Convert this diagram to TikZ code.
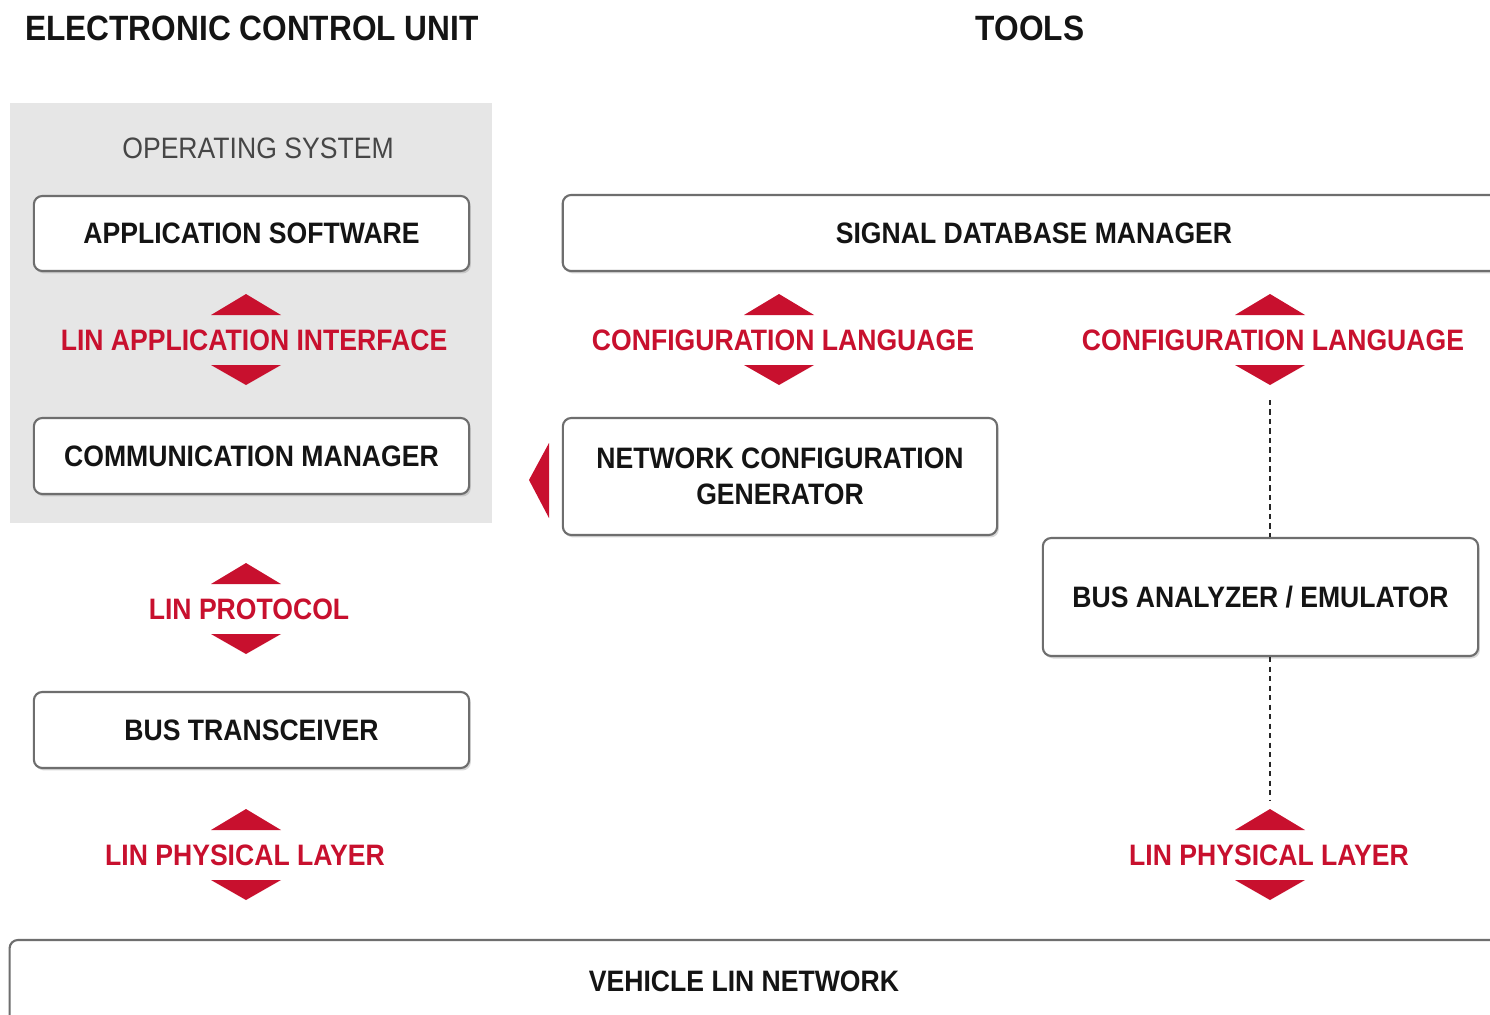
\documentclass[tikz,border=0pt]{standalone}
\usepackage{fontspec}
\setmainfont{Liberation Sans}[FakeStretch=0.9]
\usetikzlibrary{shadows}
\definecolor{linred}{RGB}{200,16,46}
\definecolor{osgray}{RGB}{230,230,230}
\definecolor{boxline}{RGB}{110,110,110}
\definecolor{ostext}{RGB}{70,70,70}
\begin{document}
\begin{tikzpicture}[x=0.01cm,y=-0.01cm,
  box/.style={draw=boxline, line width=0.6pt, fill=white, rounded corners=2.4pt,
    inner sep=0pt, align=center, text=black!92,
    font=\bfseries\fontsize{8.4}{10.2}\selectfont,
    drop shadow={shadow xshift=0.5pt, shadow yshift=-0.7pt, opacity=0.3}},
  lbl/.style={font=\bfseries\fontsize{8.4}{10}\selectfont, text=linred, inner sep=0pt},
  ttl/.style={font=\bfseries\fontsize{10}{12}\selectfont, inner sep=0pt, text=black!92},
  dotline/.style={draw=black!85, line width=0.75pt, dash pattern=on 1.5pt off 1.2pt},
  biarrow/.pic={
    \fill[linred] (-35,-25) -- (0,-46) -- (35,-25) -- cycle;
    \fill[linred] (-35,25) -- (0,45) -- (35,25) -- cycle;
  }]
\useasboundingbox (0,0) rectangle (1490,1015);
\fill[white] (0,0) rectangle (1490,1015);

% titles
\node[ttl] (ecu) at (252,28) {ELECTRONIC CONTROL UNIT};
\node[ttl] (tools) at (1030,28) {TOOLS};

% operating system panel
\node[fill=osgray, minimum width=4.82cm, minimum height=4.2cm, inner sep=0pt] (os) at (251,313) {};
\node[inner sep=0pt, text=ostext, font=\fontsize{8.4}{10}\selectfont] (oslbl) at (258,148) {OPERATING SYSTEM};

% boxes
\node[box, minimum width=4.35cm, minimum height=0.75cm] (app) at (251.5,233.5) {APPLICATION SOFTWARE};
\node[box, minimum width=4.35cm, minimum height=0.76cm] (cm) at (251.5,456) {COMMUNICATION MANAGER};
\node[box, minimum width=4.35cm, minimum height=0.76cm] (bt) at (251.5,730) {BUS TRANSCEIVER};
\node[box, minimum width=9.42cm, minimum height=0.76cm] (sdm) at (1034,233) {SIGNAL DATABASE MANAGER};
\node[box, minimum width=4.34cm, minimum height=1.17cm] (ncg) at (780,476.5) {NETWORK CONFIGURATION\\GENERATOR};
\node[box, minimum width=4.35cm, minimum height=1.18cm] (bae) at (1260.5,597) {BUS ANALYZER / EMULATOR};
\node[box, minimum width=14.9cm, minimum height=1.0cm] (vlnbox) at (755,990) {};
\node[inner sep=0pt, text=black!92, font=\bfseries\fontsize{8.4}{10}\selectfont] (vln) at (744,981) {VEHICLE LIN NETWORK};

% red interface labels with triangles
\node[lbl] (lai) at (254,340) {LIN APPLICATION INTERFACE};
\pic at (246,340) {biarrow};
\node[lbl] (lp) at (249,609) {LIN PROTOCOL};
\pic at (246,609) {biarrow};
\node[lbl] (lpl1) at (245,855) {LIN PHYSICAL LAYER};
\pic at (246,855) {biarrow};
\node[lbl] (cl1) at (783,340) {CONFIGURATION LANGUAGE};
\pic at (779,340) {biarrow};
\node[lbl] (cl2) at (1273,340) {CONFIGURATION LANGUAGE};
\pic at (1270,340) {biarrow};
\node[lbl] (lpl2) at (1269,855) {LIN PHYSICAL LAYER};
\pic at (1270,855) {biarrow};

% left-pointing triangle
\fill[linred] (549,443) -- (529,480) -- (549,518) -- cycle;

% dotted connectors
\coordinate (d1) at (1270,400);
\coordinate (d2) at (1270,800);
\draw[dotline] (d1) -- (d1 |- bae.north);
\draw[dotline] (d1 |- bae.south) -- (d2);
\end{tikzpicture}
\end{document}
